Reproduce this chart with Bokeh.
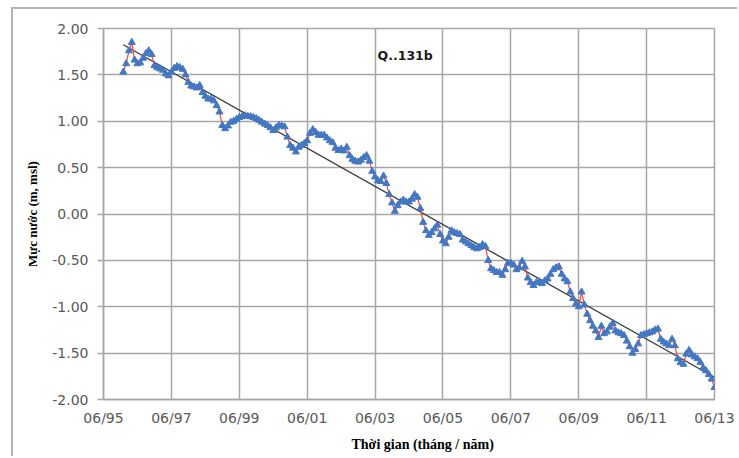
import numpy as np
from bokeh.plotting import figure
from bokeh.models import FixedTicker, NumeralTickFormatter, Label, Title
from bokeh.embed import file_html
from bokeh.resources import INLINE

# Monthly groundwater level at well Q..131b, Jan 1996 - Jun 2013 (m, msl)
station = "Q..131b"
first_month_offset = 7  # Jan 1996 counted in months from Jun 1995
levels = [
    1.53, 1.62, 1.76, 1.85, 1.66, 1.62, 1.63, 1.68, 1.73, 1.76, 1.72, 1.60,
    1.58, 1.565, 1.55, 1.51, 1.49, 1.53, 1.57, 1.59, 1.58, 1.56, 1.50, 1.42,
    1.38, 1.37, 1.36, 1.385, 1.31, 1.27, 1.24, 1.24, 1.22, 1.17, 1.10, 0.955,
    0.92, 0.95, 0.99, 1.00, 1.02, 1.04, 1.05, 1.06, 1.055, 1.05, 1.04, 1.03,
    1.01, 0.99, 0.97, 0.955, 0.93, 0.90, 0.93, 0.955, 0.95, 0.94, 0.83, 0.74,
    0.71, 0.67, 0.72, 0.74, 0.76, 0.79, 0.87, 0.91, 0.88, 0.85, 0.85, 0.85,
    0.82, 0.79, 0.77, 0.71, 0.685, 0.70, 0.68, 0.72, 0.63, 0.59, 0.57, 0.56,
    0.58, 0.61, 0.63, 0.57, 0.46, 0.40, 0.36, 0.35, 0.41, 0.33, 0.21, 0.12,
    0.03, 0.09, 0.13, 0.15, 0.13, 0.13, 0.16, 0.21, 0.18, 0.06, -0.09, -0.18,
    -0.23, -0.20, -0.16, -0.12, -0.22, -0.29, -0.32, -0.25, -0.18, -0.20, -0.21, -0.22,
    -0.28, -0.30, -0.32, -0.34, -0.36, -0.375, -0.36, -0.33, -0.35, -0.50, -0.59, -0.61,
    -0.63, -0.63, -0.66, -0.60, -0.53, -0.53, -0.55, -0.60, -0.58, -0.51, -0.57, -0.69,
    -0.74, -0.77, -0.74, -0.73, -0.75, -0.72, -0.70, -0.65, -0.60, -0.58, -0.57, -0.65,
    -0.70, -0.73, -0.84, -0.91, -0.97, -1.00, -0.84, -0.98, -1.08, -1.15, -1.21, -1.26,
    -1.33, -1.21, -1.29, -1.27, -1.22, -1.18, -1.26, -1.28, -1.29, -1.31, -1.37, -1.43,
    -1.50, -1.46, -1.40, -1.31, -1.30, -1.29, -1.28, -1.27, -1.25, -1.24, -1.35, -1.38,
    -1.40, -1.42, -1.35, -1.42, -1.56, -1.60, -1.62, -1.51, -1.47, -1.52, -1.54, -1.56,
    -1.60, -1.66, -1.69, -1.73, -1.78, -1.87,
]
x_tick_labels = ["06/95", "06/97", "06/99", "06/01", "06/03",
                 "06/05", "06/07", "06/09", "06/11", "06/13"]
y_ticks = [-2.0, -1.5, -1.0, -0.5, 0.0, 0.5, 1.0, 1.5, 2.0]

months = np.arange(len(levels)) + first_month_offset
vals = np.array(levels)
x_ticks = [24 * i for i in range(len(x_tick_labels))]

# linear trend of the series
slope, intercept = np.polyfit(months, vals, 1)
trend_x = [months[0], x_ticks[-1]]
trend_y = [slope * t + intercept for t in trend_x]

GRID = "#a6a6a6"
TICK_TXT = "#595959"

p = figure(width=726, height=449, output_backend="svg", toolbar_location=None,
           x_range=(x_ticks[0], x_ticks[-1]), y_range=(y_ticks[0], y_ticks[-1]),
           min_border_left=90, min_border_right=25, min_border_top=19,
           min_border_bottom=59)
# outer chart frame (left and top edges show inside the page)
p.styles = {"margin-left": "11px", "margin-top": "7px",
            "border-left": "2px solid #b4b4b4", "border-top": "2px solid #b4b4b4"}
p.background_fill_color = "white"
p.border_fill_color = "white"
p.outline_line_color = GRID
p.outline_line_width = 1.5

p.xaxis.ticker = FixedTicker(ticks=x_ticks)
p.xaxis.major_label_overrides = {t: lab for t, lab in zip(x_ticks, x_tick_labels)}
p.yaxis.ticker = FixedTicker(ticks=y_ticks)
p.yaxis.formatter = NumeralTickFormatter(format="0.00")

for ax in (p.xaxis[0], p.yaxis[0]):
    ax.axis_line_color = GRID
    ax.axis_line_width = 1.5
    ax.major_tick_line_color = GRID
    ax.major_tick_line_width = 1.5
    ax.minor_tick_line_color = None
    ax.major_tick_in = 0
    ax.major_label_text_font = "DejaVu Sans"
    ax.major_label_text_font_size = "14px"
    ax.major_label_text_color = TICK_TXT
p.xaxis.major_tick_out = 0
p.xaxis.major_label_standoff = 10
p.yaxis.major_tick_out = 6
p.yaxis.major_label_standoff = 9

p.yaxis.axis_label = "Mực nước (m, msl)"
p.yaxis.axis_label_text_font = "Liberation Serif"
p.yaxis.axis_label_text_font_style = "bold"
p.yaxis.axis_label_text_font_size = "13px"
p.yaxis.axis_label_text_color = "black"
p.yaxis.axis_label_standoff = 9

p.add_layout(Title(text="Thời gian (tháng / năm)", align="left", offset=248,
                   text_font="Liberation Serif", text_font_style="bold",
                   text_font_size="14px", text_color="black", standoff=12), "below")

p.xgrid.ticker = FixedTicker(ticks=x_ticks)
p.ygrid.ticker = FixedTicker(ticks=y_ticks)
for g in (p.xgrid[0], p.ygrid[0]):
    g.grid_line_color = GRID
    g.grid_line_width = 1.5

p.line(trend_x, trend_y, line_color="#3a3a3a", line_width=1.3)
p.line(months, vals, line_color="#ff4040", line_width=1.2)
p.scatter(months, vals, marker="triangle", size=7,
          fill_color="#4477c2", line_color="#4477c2")

p.add_layout(Label(x=96.9, y=1.71, text=station, text_font="DejaVu Sans",
                   text_font_style="bold", text_font_size="12.5px",
                   text_baseline="middle", text_color="#1a1a1a"))

open("out.html", "w").write(file_html(p, INLINE))
